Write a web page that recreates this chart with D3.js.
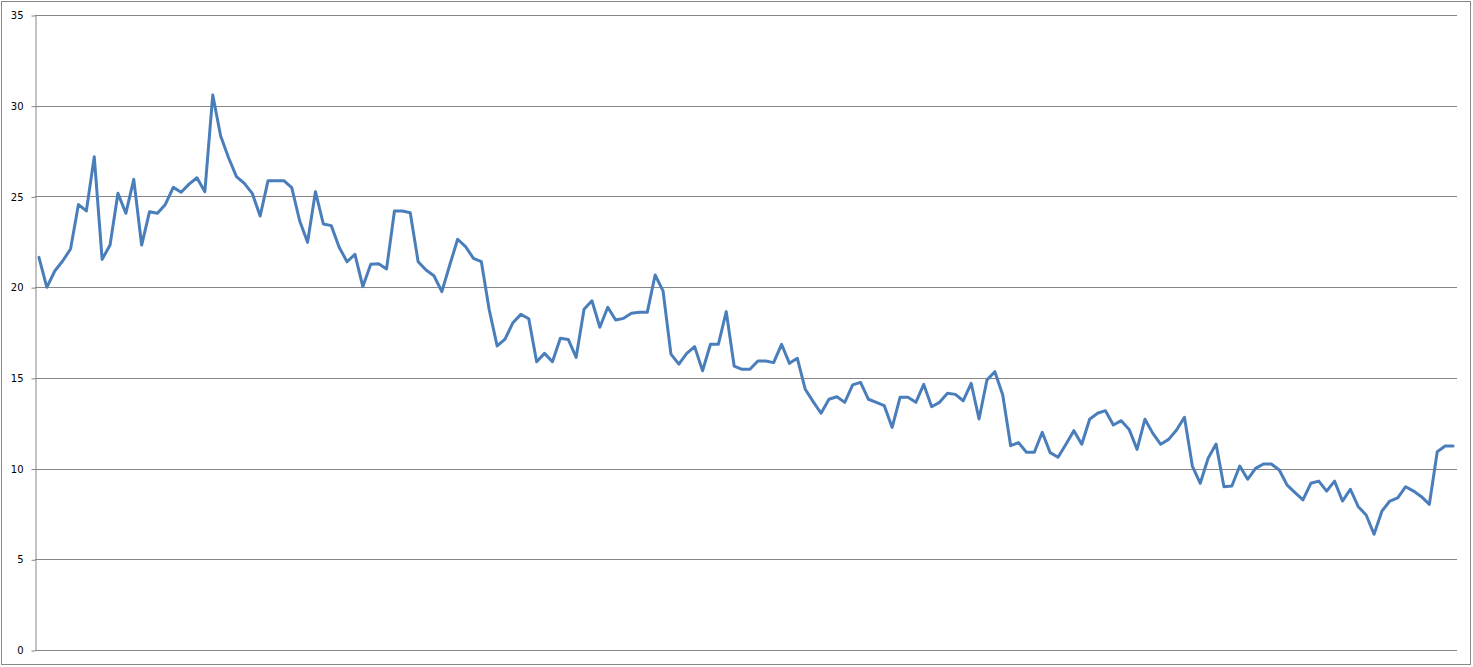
<!DOCTYPE html>
<html>
<head>
<meta charset="utf-8">
<script src="https://cdn.jsdelivr.net/npm/d3@7"></script>
<style>
  body { margin: 0; background: #fff; }
  svg { display: block; }
  .tick-label { font-family: "DejaVu Sans", sans-serif; font-size: 10px; fill: #000; }
</style>
</head>
<body>
<svg width="1473" height="667"></svg>
<script>
// valeurs (180 points, pas de libelles en x)
var values = [
  21.64, 19.99, 20.89, 21.44, 22.10, 24.55, 24.20, 27.19, 21.53, 22.32,
  25.17, 24.07, 25.94, 22.32, 24.16, 24.07, 24.56, 25.50, 25.23, 25.68,
  26.03, 25.26, 30.59, 28.33, 27.13, 26.09, 25.72, 25.17, 23.92, 25.87,
  25.87, 25.87, 25.48, 23.66, 22.47, 25.26, 23.48, 23.39, 22.20, 21.40,
  21.81, 20.03, 21.26, 21.29, 21.00, 24.20, 24.20, 24.10, 21.40, 20.94,
  20.63, 19.75, 21.22, 22.64, 22.23, 21.59, 21.40, 18.74, 16.76, 17.14,
  18.04, 18.50, 18.26, 15.89, 16.35, 15.89, 17.18, 17.12, 16.13, 18.78,
  19.25, 17.79, 18.89, 18.19, 18.28, 18.56, 18.61, 18.61, 20.67, 19.79,
  16.31, 15.76, 16.35, 16.72, 15.39, 16.85, 16.85, 18.65, 15.65, 15.47,
  15.47, 15.93, 15.93, 15.84, 16.85, 15.80, 16.08, 14.37, 13.69, 13.05,
  13.82, 13.96, 13.65, 14.61, 14.75, 13.82, 13.65, 13.47, 12.27, 13.93,
  13.93, 13.65, 14.64, 13.41, 13.65, 14.15, 14.09, 13.74, 14.70, 12.73,
  14.88, 15.34, 14.06, 11.26, 11.43, 10.90, 10.90, 12.00, 10.88, 10.62,
  11.34, 12.09, 11.34, 12.72, 13.05, 13.19, 12.40, 12.64, 12.16, 11.06,
  12.72, 11.94, 11.34, 11.61, 12.13, 12.83, 10.14, 9.19, 10.57, 11.35,
  9.00, 9.04, 10.14, 9.41, 10.01, 10.25, 10.25, 9.92, 9.09, 8.67,
  8.27, 9.19, 9.31, 8.76, 9.31, 8.21, 8.86, 7.90, 7.44, 6.38,
  7.66, 8.21, 8.39, 9.00, 8.76, 8.45, 8.03, 10.93, 11.24, 11.24
];
var categories = values.map(function(d, i) { return i + 1; });
var yTicks = [0, 5, 10, 15, 20, 25, 30, 35];

window.onload = function () {
  draw();
};

function draw() {
  var svg = d3.select("svg"),
      plotLeft = 35, plotRight = 1457, plotTop = 15, plotBottom = 650;

  // cadre exterieur
  svg.append("rect")
      .attr("x", 1.5).attr("y", 1.5)
      .attr("width", 1469).attr("height", 663)
      .attr("fill", "#fff")
      .attr("stroke", "#868686");

  var x = d3.scaleBand()
      .domain(categories)
      .range([plotLeft, plotRight])
      .padding(0);

  var y = d3.scaleLinear()
      .domain([0, 35])
      .range([plotBottom, plotTop]);

  // grille horizontale
  svg.append("g")
      .selectAll("line")
      .data(yTicks)
      .enter().append("line")
      .attr("x1", plotLeft).attr("x2", plotRight)
      .attr("y1", function(d) { return Math.round(y(d)) + 0.5; })
      .attr("y2", function(d) { return Math.round(y(d)) + 0.5; })
      .attr("stroke", "#868686")
      .attr("stroke-width", 1);

  // axe y
  var yAxis = d3.axisLeft(y)
      .tickValues(yTicks)
      .tickSize(4)
      .tickSizeOuter(0)
      .tickPadding(8)
      .tickFormat(d3.format("d"));

  var gy = svg.append("g")
      .attr("transform", "translate(" + (plotLeft + 0.5) + ",0.5)")
      .call(yAxis);

  gy.select(".domain").attr("stroke", "#868686");
  gy.selectAll(".tick line").attr("stroke", "#868686");
  gy.selectAll(".tick text")
      .attr("class", "tick-label")
      .attr("font-family", null)
      .attr("font-size", null);
  gy.attr("font-family", null).attr("font-size", null);

  // la courbe
  var line = d3.line()
      .x(function(d, i) { return x(categories[i]) + x.bandwidth() / 2; })
      .y(function(d) { return y(d); });

  svg.append("path")
      .datum(values)
      .attr("d", line)
      .attr("fill", "none")
      .attr("stroke", "#4a7ebb")
      .attr("stroke-width", 3)
      .attr("stroke-linejoin", "round")
      .attr("stroke-linecap", "round");
}
</script>
</body>
</html>
